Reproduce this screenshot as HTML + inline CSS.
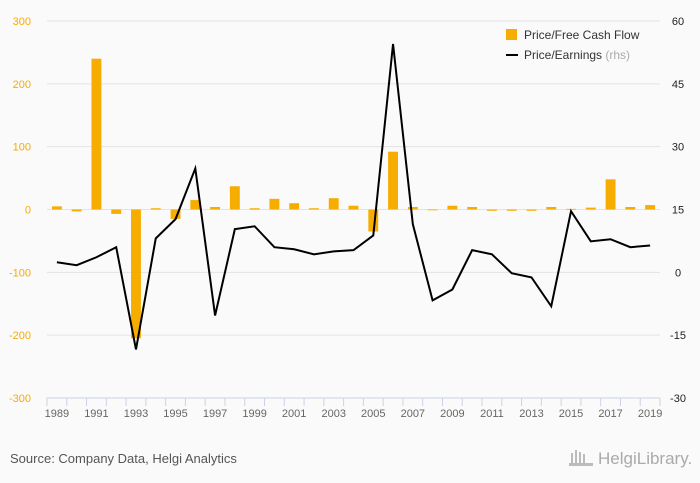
<!DOCTYPE html>
<html><head><meta charset="utf-8"><style>
body{margin:0;background:#fafafa;font-family:"Liberation Sans",sans-serif}
svg{display:block}
</style></head><body>
<svg width="700" height="483" viewBox="0 0 700 483">
<rect width="700" height="483" fill="#fafafa"/>
<g id="grid"></g><g id="bars"></g><g id="line"></g><g id="axes"></g>
<g>
<rect x="506" y="29" width="11" height="11" fill="#f7ac00"/>
<text x="524" y="39" font-size="12" fill="#333">Price/Free Cash Flow</text>
<line x1="506" y1="55" x2="518" y2="55" stroke="#000" stroke-width="2"/>
<text x="524" y="59" font-size="12" fill="#333">Price/Earnings <tspan fill="#aaa">(rhs)</tspan></text>
</g>
<text x="10" y="463" font-size="13" fill="#555">Source: Company Data, Helgi Analytics</text>
<text x="598" y="464" font-size="17" fill="#aaa">HelgiLibrary.</text>
<g fill="#bbb"><rect x="571" y="453" width="2" height="12"/><rect x="575" y="450" width="2" height="15"/><rect x="579" y="452" width="2" height="13"/><rect x="583" y="454" width="2" height="11"/><rect x="569" y="463" width="24" height="3"/></g>
</svg>
<script>
const years=[1989,1990,1991,1992,1993,1994,1995,1996,1997,1998,1999,2000,2001,2002,2003,2004,2005,2006,2007,2008,2009,2010,2011,2012,2013,2014,2015,2016,2017,2018,2019];
const fcf=[5,-3,240,-7,-205,2,-15,15,4,37,2,17,10,2,18,6,-35,92,4,0,6,4,-2,-2,-2,4,1,3,48,4,7];
const pe=[2.4,1.7,3.6,6,-18.4,8.1,12.7,24.8,-10.3,10.3,11,6,5.5,4.3,5,5.3,8.8,54.5,11.5,-6.7,-4.1,5.3,4.3,-0.2,-1.2,-8.1,14.6,7.4,7.9,6,6.4];
const leftTicks=[300,200,100,0,-100,-200,-300];
const rightTicks=[60,45,30,15,0,-15,-30];
const NS='http://www.w3.org/2000/svg';
const x0=47,x1=660,yTop=21,yBot=398;
const band=(x1-x0)/years.length;
const xc=i=>x0+band*(i+0.5);
const yL=v=>yTop+(300-v)/600*(yBot-yTop);
const yR=v=>yTop+(60-v)/90*(yBot-yTop);
function mk(tag,attrs,parent){const e=document.createElementNS(NS,tag);for(const k in attrs)e.setAttribute(k,attrs[k]);document.getElementById(parent).appendChild(e);return e;}
leftTicks.forEach((t,i)=>{
  const y=yL(t);
  if(i<leftTicks.length-1){const g=mk('line',{x1:x0,x2:x1,y1:y,y2:y,stroke:'#e3e3e3','stroke-width':1},'grid');
  
  }
  const tx=mk('text',{x:31,y:y+4,'font-size':11,fill:'#f7ac00','text-anchor':'end'},'axes');tx.textContent=t;
  
  
});
rightTicks.forEach(t=>{
  const tx=mk('text',{x:678,y:yR(t)+4,'font-size':11,fill:'#222','text-anchor':'middle'},'axes');tx.textContent=t;
  
  
});
fcf.forEach((v,i)=>{
  const w=band*0.5,ya=yL(Math.max(v,0)),yb=yL(Math.min(v,0));
  const r=mk('rect',{x:xc(i)-w/2,y:ya,width:w,height:Math.max(yb-ya,0.8),fill:'#f7ac00'},'bars');
  
  
});
const p=mk('polyline',{points:pe.map((v,i)=>xc(i)+','+yR(v)).join(' '),fill:'none',stroke:'#000','stroke-width':2,'stroke-linejoin':'miter'},'line');


const ax=mk('line',{x1:x0,x2:x1,y1:yBot,y2:yBot,stroke:'#c9d3e8','stroke-width':1},'axes');


for(let i=0;i<=years.length;i++){
  const tk=mk('line',{x1:x0+band*i,x2:x0+band*i,y1:yBot,y2:yBot+8,stroke:'#c9d3e8'},'axes');
  
  
}
years.forEach((y,i)=>{if(i%2)return;
  const tx=mk('text',{x:xc(i),y:yBot+19,'font-size':11,fill:'#666','text-anchor':'middle'},'axes');tx.textContent=y;
  
  
});
</script>
</body></html>
